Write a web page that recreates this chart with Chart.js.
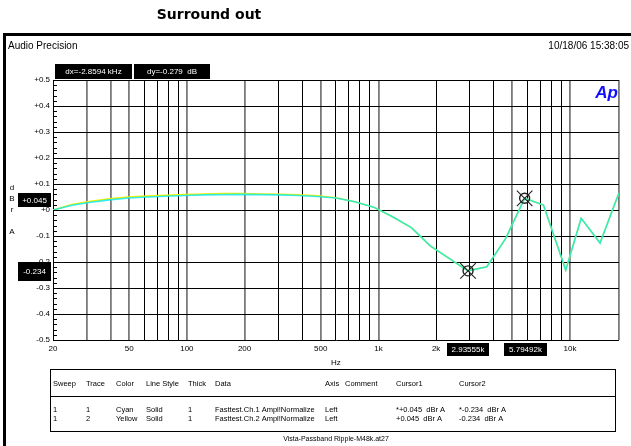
<!DOCTYPE html>
<html>
<head>
<meta charset="utf-8">
<script src="https://cdn.jsdelivr.net/npm/chart.js@4.4.1/dist/chart.umd.min.js"></script>
<style>
  html, body { margin: 0; padding: 0; background: #fff; }
  #wrap { width: 631px; height: 446px; }
</style>
</head>
<body>
<div id="wrap"><canvas id="apChart" width="631" height="446"></canvas></div>
<script>
// sweep frequencies (Hz)
const freqHz = [20, 25.1, 31.5, 39.5, 49.5, 62.1, 78, 97.8, 122.7, 153.9, 193.1, 242.2, 303.8, 381.2, 478.2,
    599.9, 752.6, 944.1, 1184, 1486, 1864, 2339, 2934, 3681, 4618, 5793, 7267, 9500, 11437, 14348, 18000];

// trace 1 (cyan) - Fasttest.Ch.1 Ampl!Normalize, dBr A
const cyanDb = [0.000, 0.018, 0.030, 0.039, 0.046, 0.050, 0.053, 0.056, 0.058, 0.059, 0.060, 0.059, 0.058, 0.056, 0.052,
    0.046, 0.032, 0.011, -0.026, -0.068, -0.138, -0.186, -0.234, -0.218, -0.109, 0.045, 0.019, -0.231, -0.032, -0.127, 0.065];

// trace 2 (yellow) - Fasttest.Ch.2 Ampl!Normalize, dBr A
const yellowDb = [0.000, 0.021, 0.034, 0.043, 0.050, 0.054, 0.057, 0.060, 0.062, 0.063, 0.063, 0.062, 0.061, 0.059, 0.055,
    0.047, 0.032, 0.011, -0.026, -0.068, -0.138, -0.186, -0.234, -0.218, -0.109, 0.045, 0.019, -0.231, -0.032, -0.127, 0.065];

// cursors
const cursorHz = [2935.55, 5794.92];
const cursorDb = [-0.234, 0.045];

// axis ticks
const gridHz = [20, 30, 40, 50, 60, 70, 80, 90, 100, 200, 300, 400, 500, 600, 700, 800, 900,
    1000, 2000, 3000, 4000, 5000, 6000, 7000, 8000, 9000, 10000, 18000];
const xLabelHz = [20, 50, 100, 200, 500, 1000, 2000, 5000, 10000];
const xLabelText = ['20', '50', '100', '200', '500', '1k', '2k', '5k', '10k'];
const grayGridHz = [30, 40, 50, 100, 200, 500, 1000, 5000, 10000, 18000];
const yTicks = [-0.5, -0.4, -0.3, -0.2, -0.1, 0, 0.1, 0.2, 0.3, 0.4, 0.5];
const yLabels = ['-0.5', '-0.4', '-0.3', '-0.2', '-0.1', '+0', '+0.1', '+0.2', '+0.3', '+0.4', '+0.5'];

// legend table
const tableHead = ['Sweep', 'Trace', 'Color', 'Line Style', 'Thick', 'Data', 'Axis', 'Comment', 'Cursor1', 'Cursor2'];
const tableRows = [
    ['1', '1', 'Cyan', 'Solid', '1', 'Fasttest.Ch.1 Ampl!Normalize', 'Left', '', '*+0.045  dBr A', '*-0.234  dBr A'],
    ['1', '2', 'Yellow', 'Solid', '1', 'Fasttest.Ch.2 Ampl!Normalize', 'Left', '', '+0.045  dBr A', '-0.234  dBr A']
];
const tableColX = [53, 86, 116, 146, 188, 215, 325, 345, 396, 459];

const FONT = '"Liberation Sans", Arial, sans-serif';

function pts(ys) {
    return freqHz.map((f, i) => ({ x: f, y: ys[i] }));
}

function blackBox(ctx, x, y, w, h, text, size) {
    ctx.fillStyle = '#000';
    ctx.fillRect(x, y, w, h);
    ctx.fillStyle = '#fff';
    ctx.font = size + 'px ' + FONT;
    ctx.textAlign = 'center';
    ctx.textBaseline = 'middle';
    ctx.fillText(text, x + w / 2, y + h / 2 + 0.5);
}

const apDecor = {
    id: 'apDecor',
    beforeDraw(chart) {
        const ctx = chart.ctx;
        ctx.save();
        ctx.fillStyle = '#fff';
        ctx.fillRect(0, 0, chart.width, chart.height);

        // title
        ctx.fillStyle = '#000';
        ctx.font = 'bold 14px "DejaVu Sans", sans-serif';
        ctx.textAlign = 'center';
        ctx.textBaseline = 'middle';
        ctx.fillText('Surround out', 209, 15);

        // outer frame
        ctx.fillRect(3, 33, 628, 3);
        ctx.fillRect(3, 33, 3, 413);

        ctx.font = '10px ' + FONT;
        ctx.textAlign = 'left';
        ctx.fillText('Audio Precision', 8, 46);
        ctx.textAlign = 'right';
        ctx.fillText('10/18/06 15:38:05', 629, 46);
        ctx.restore();
    },
    afterDraw(chart) {
        const ctx = chart.ctx;
        const xs = chart.scales.x, ys = chart.scales.y;
        const a = chart.chartArea;
        ctx.save();

        // minor ticks on the left axis
        ctx.strokeStyle = '#000';
        ctx.lineWidth = 1;
        ctx.beginPath();
        for (let k = -25; k <= 25; k++) {
            const py = Math.round(ys.getPixelForValue(k * 0.02)) + 0.5;
            const len = (k % 5 === 0) ? 7 : 4;
            ctx.moveTo(a.left, py);
            ctx.lineTo(a.left + len, py);
        }
        ctx.stroke();

        // axis titles
        ctx.fillStyle = '#000';
        ctx.font = '8px ' + FONT;
        ctx.textAlign = 'center';
        ctx.textBaseline = 'middle';
        ctx.fillText('Hz', (a.left + a.right) / 2, 363);
        [['d', 188], ['B', 199], ['r', 210], ['A', 232]].forEach(([c, y]) => ctx.fillText(c, 12, y));

        // Ap logo
        ctx.fillStyle = '#1010ff';
        ctx.font = 'italic bold 17px ' + FONT;
        ctx.textAlign = 'right';
        ctx.fillText('Ap', a.right - 1, a.top + 13);

        // cursor readouts
        const c0y = ys.getPixelForValue(cursorDb[1]);
        const c1y = ys.getPixelForValue(cursorDb[0]);
        blackBox(ctx, 18, Math.round(c0y) - 5, 33, 14, '+0.045', 8);
        blackBox(ctx, 18, Math.round(c1y) - 9, 33, 19, '-0.234', 8);
        const c0x = xs.getPixelForValue(cursorHz[0]);
        const c1x = xs.getPixelForValue(cursorHz[1]);
        blackBox(ctx, Math.round(c0x) - 21, 343, 42, 13, '2.93555k', 8);
        blackBox(ctx, Math.round(c1x) - 21, 343, 43, 13, '5.79492k', 8);
        blackBox(ctx, 55, 64, 77, 15, 'dx=-2.8594 kHz', 8);
        blackBox(ctx, 134, 64, 76, 15, 'dy=-0.279  dB', 8);

        // legend table
        ctx.strokeStyle = '#000';
        ctx.lineWidth = 1;
        ctx.strokeRect(50.5, 369.5, 565, 62);
        ctx.beginPath();
        ctx.moveTo(50, 396.5);
        ctx.lineTo(616, 396.5);
        ctx.stroke();
        ctx.fillStyle = '#000';
        ctx.font = '7.5px ' + FONT;
        ctx.textAlign = 'left';
        ctx.textBaseline = 'middle';
        tableHead.forEach((t, i) => ctx.fillText(t, tableColX[i], 384));
        tableRows.forEach((row, r) => {
            row.forEach((t, i) => ctx.fillText(t, tableColX[i], 410 + r * 9));
        });
        ctx.textAlign = 'center';
        ctx.font = '7px ' + FONT;
        ctx.fillText('Vista-Passband Ripple-M48k.at27', 336, 439);

        ctx.restore();
    }
};

new Chart(document.getElementById('apChart'), {
    type: 'line',
    data: {
        datasets: [
            {
                label: 'cursor ring',
                data: cursorHz.map((f, i) => ({ x: f, y: cursorDb[i] })),
                showLine: false,
                pointStyle: 'circle',
                pointRadius: 5,
                pointBorderColor: '#222',
                pointBackgroundColor: 'rgba(0,0,0,0)',
                pointBorderWidth: 1.4,
                order: 0
            },
            {
                label: 'cursor cross',
                data: cursorHz.map((f, i) => ({ x: f, y: cursorDb[i] })),
                showLine: false,
                pointStyle: 'crossRot',
                pointRadius: 11,
                pointBorderColor: '#222',
                pointBorderWidth: 1.1,
                order: 0
            },
            {
                label: 'Cyan',
                data: pts(cyanDb),
                borderColor: 'rgba(0,232,240,0.78)',
                borderWidth: 1.6,
                pointRadius: 0,
                tension: 0,
                order: 1
            },
            {
                label: 'Yellow',
                data: pts(yellowDb),
                borderColor: '#f0f000',
                borderWidth: 1.5,
                pointRadius: 0,
                tension: 0,
                order: 2
            }
        ]
    },
    options: {
        responsive: false,
        animation: false,
        devicePixelRatio: 1,
        layout: { padding: { left: 0, right: 12, top: 80, bottom: 0 } },
        plugins: {
            legend: { display: false },
            tooltip: { enabled: false },
            title: { display: false }
        },
        scales: {
            x: {
                type: 'logarithmic',
                min: 20,
                max: 18000,
                afterBuildTicks: s => { s.ticks = gridHz.map(v => ({ value: v })); },
                afterFit: s => { s.height = 106; },
                border: { display: false },
                grid: {
                    drawTicks: false,
                    color: c => grayGridHz.includes(c.tick.value) ? '#7a7a7a' : '#000',
                    lineWidth: c => grayGridHz.includes(c.tick.value) ? 1.8 : 1
                },
                ticks: {
                    autoSkip: false,
                    maxRotation: 0,
                    minRotation: 0,
                    padding: 4,
                    color: '#000',
                    font: { family: FONT, size: 8 },
                    callback: v => {
                        const i = xLabelHz.indexOf(v);
                        return i >= 0 ? xLabelText[i] : '';
                    }
                }
            },
            y: {
                min: -0.5,
                max: 0.5,
                afterBuildTicks: s => { s.ticks = yTicks.map(v => ({ value: v })); },
                afterFit: s => { s.width = 53; },
                border: { display: true, color: '#000', width: 1 },
                grid: { drawTicks: false, color: '#000', lineWidth: 1 },
                ticks: {
                    padding: 3,
                    color: '#000',
                    font: { family: FONT, size: 8 },
                    callback: v => {
                        const i = yTicks.findIndex(t => Math.abs(t - v) < 1e-9);
                        return i >= 0 ? yLabels[i] : '';
                    }
                }
            }
        }
    },
    plugins: [apDecor]
});
</script>
</body>
</html>
